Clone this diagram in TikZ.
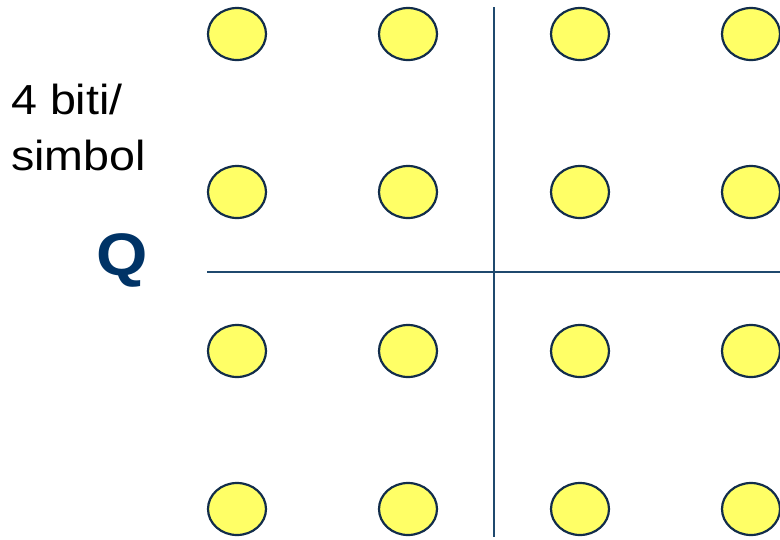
\documentclass[tikz,border=0pt]{standalone}
\usepackage{fontspec}
\setmainfont{Liberation Sans}
\usepackage{tikz}
\usetikzlibrary{shapes.geometric}

\definecolor{axisblue}{RGB}{31,73,110}
\definecolor{dotedge}{RGB}{18,45,75}
\definecolor{dotfill}{RGB}{255,255,102}
\definecolor{qblue}{RGB}{0,51,102}

\tikzset{
  symdot/.style={ellipse, draw=dotedge, line width=2.2pt, fill=dotfill,
    minimum width=58pt, minimum height=52pt, inner sep=0pt},
  axisline/.style={draw=axisblue, line width=2.6pt},
  labeltext/.style={anchor=base west, inner sep=0pt, font=\fontsize{42}{50}\selectfont}
}

\begin{document}
\begin{tikzpicture}[x=1pt, y=-1pt]
  \useasboundingbox (0,0) rectangle (780,539);
  % axes
  \coordinate (xl) at (207,272);
  \coordinate (xr) at (780,272);
  \coordinate (yt) at (494,7);
  \coordinate (yb) at (494,537);
  \draw[axisline] (xl) -- (xr);
  \draw[axisline] (yt) -- (yb);
  % 16 symbol points
  \foreach \i/\x in {1/237, 2/408, 3/580, 4/751}
    \foreach \j/\y in {1/34, 2/192, 3/351, 4/509}
      \node[symdot] (s\i\j) at (\x,\y) {};
  % labels
  \node[labeltext] (bits) at (11,114) {\scalebox{1.11}[1]{4 biti/}};
  \node[labeltext] (simb) at (11,170) {\scalebox{1.11}[1]{simbol}};
  \node[anchor=base, inner sep=0pt, text=qblue,
    font=\fontsize{60}{70}\selectfont\bfseries] (qlab) at (122,275) {\scalebox{1.1}[1]{Q}};
\end{tikzpicture}
\end{document}
